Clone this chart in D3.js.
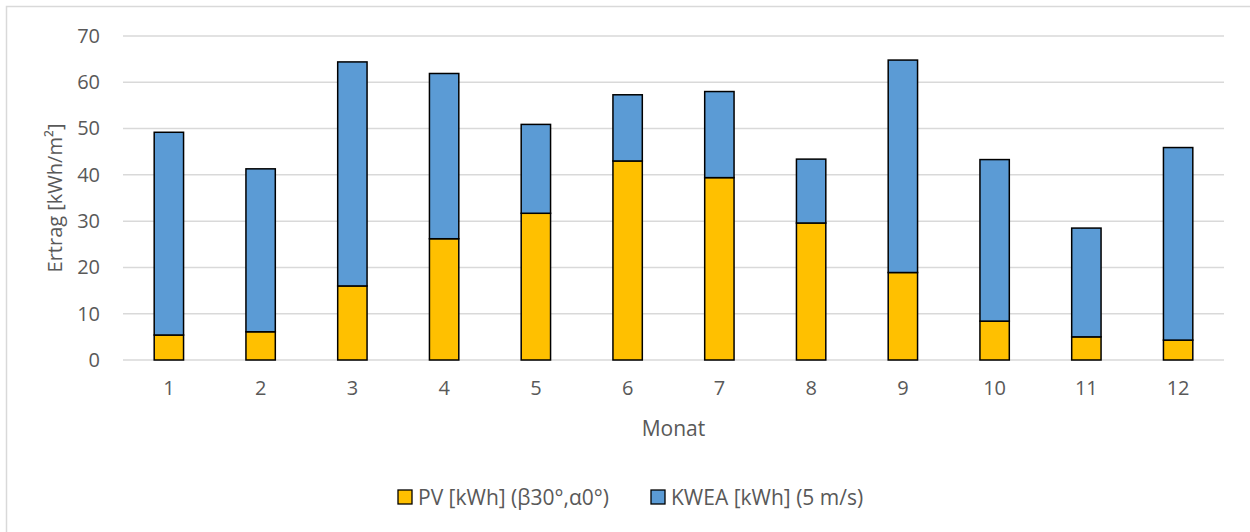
<!DOCTYPE html>
<html>
<head>
<meta charset="utf-8">
<script src="https://cdn.jsdelivr.net/npm/d3@7"></script>
<style>
  body { margin: 0; background: #fff; }
  text { font-family: 'Open Sans', sans-serif; fill: #595959; }
</style>
</head>
<body>
<div id="chart"></div>
<script>
const months = ['1', '2', '3', '4', '5', '6', '7', '8', '9', '10', '11', '12']
const pv = [5.4, 6.1, 16.0, 26.2, 31.7, 43.0, 39.4, 29.6, 18.9, 8.4, 5.0, 4.3]
const kwea = [43.8, 35.2, 48.4, 35.7, 19.2, 14.3, 18.6, 13.8, 45.9, 34.9, 23.5, 41.6]
const yTicks = [0, 10, 20, 30, 40, 50, 60, 70]
const seriesNames = ['PV [kWh] (β30°,α0°)', 'KWEA [kWh] (5 m/s)']
const colors = ['#FFC000', '#5B9BD5']

const W = 1250
const H = 532
const margin = { top: 36, right: 26, bottom: 172, left: 123 }
const width = W - margin.left - margin.right
const height = H - margin.top - margin.bottom

const svg = d3.select('#chart').append('svg')
  .attr('width', W)
  .attr('height', H)

// chart border
svg.append('rect')
  .attr('x', 6.5).attr('y', 6.5)
  .attr('width', W).attr('height', H)
  .attr('fill', 'none')
  .attr('stroke', '#d9d9d9')
  .attr('stroke-width', 1.5)

const g = svg.append('g')
  .attr('transform', 'translate(' + margin.left + ',' + margin.top + ')')

const x = d3.scaleBand().domain(months).range([0, width]).paddingInner(0.68).paddingOuter(0.34)
const y = d3.scaleLinear().domain([0, 70]).range([height, 0])

// gridlines
g.selectAll('.grid')
  .data(yTicks)
  .enter().append('line')
  .attr('x1', 0).attr('x2', width)
  .attr('y1', d => y(d)).attr('y2', d => y(d))
  .attr('stroke', '#d9d9d9')
  .attr('stroke-width', 1.5)

const yAxis = d3.axisLeft(y).tickValues(yTicks).tickSize(0).tickPadding(23)
g.append('g').attr('class', 'y-axis').call(yAxis)
  .call(a => a.select('.domain').remove())
  .selectAll('text').style('font-size', '20px').attr('fill', '#595959')

const xAxis = d3.axisBottom(x).tickSize(0).tickPadding(21)
g.append('g').attr('class', 'x-axis')
  .attr('transform', 'translate(0,' + height + ')')
  .call(xAxis)
  .call(a => a.select('.domain').remove())
  .selectAll('text').style('font-size', '20px').attr('fill', '#595959')

const rows = months.map((m, i) => ({ month: m, pv: pv[i], kwea: kwea[i] }))
const stacked = d3.stack().keys(['pv', 'kwea'])(rows)

g.selectAll('.series')
  .data(stacked)
  .enter().append('g')
  .attr('fill', (d, i) => colors[i])
  .selectAll('rect')
  .data(d => d)
  .enter().append('rect')
  .attr('x', d => x(d.data.month))
  .attr('width', x.bandwidth())
  .attr('y', d => y(d[1]))
  .attr('height', d => y(d[0]) - y(d[1]))
  .attr('stroke', '#000')
  .attr('stroke-width', 1.5)

// axis titles
svg.append('text')
  .attr('x', margin.left + width / 2)
  .attr('y', 436)
  .attr('text-anchor', 'middle')
  .style('font-size', '21px')
  .text('Monat')

svg.append('text')
  .attr('transform', 'translate(62,198) rotate(-90)')
  .attr('text-anchor', 'middle')
  .style('font-size', '20px')
  .text('Ertrag [kWh/m²]')

// legend
const legendX = [398, 651]
const legend = svg.selectAll('.legend')
  .data(seriesNames)
  .enter().append('g')
  .attr('transform', (d, i) => 'translate(' + legendX[i] + ',490)')

legend.append('rect')
  .attr('width', 14).attr('height', 14)
  .attr('fill', (d, i) => colors[i])
  .attr('stroke', '#000')
  .attr('stroke-width', 1.3)

legend.append('text')
  .attr('x', 20)
  .attr('y', 14.5)
  .style('font-size', '21px')
  .text(d => d)
</script>
</body>
</html>
